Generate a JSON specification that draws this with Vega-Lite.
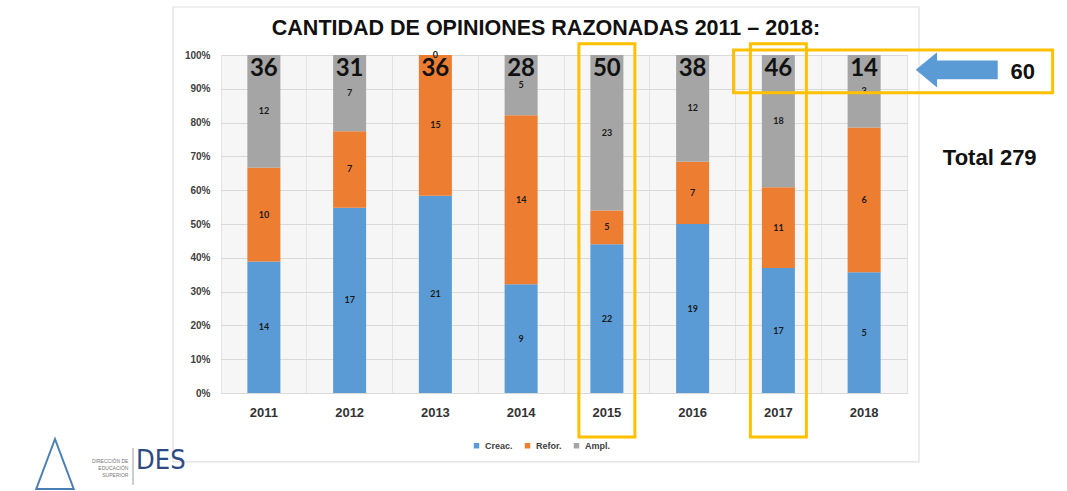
{
  "$schema": "https://vega.github.io/schema/vega-lite/v6.json",
  "width": 686,
  "height": 338,
  "autosize": "none",
  "padding": {"left": 221, "top": 55, "right": 160, "bottom": 98},
  "background": "white",
  "config": {
    "view": {"stroke": "#e2e2e2", "fill": "#f6f6f6"},
    "font": "Liberation Sans",
    "axisY": {"tickCount": 11, "labelOverlap": false, "format": ".0%", "ticks": false, "domain": false, "grid": true, "gridColor": "#d9d9d9", "title": null, "labelFont": "Liberation Sans", "labelFontWeight": "bold", "labelFontSize": 10, "labelColor": "#404040", "labelPadding": 11}
  },
  "datasets": {
    "main": [
      {"year": "2011", "cat": "Creac.", "ord": 1, "value": 14},
      {"year": "2011", "cat": "Refor.", "ord": 2, "value": 10},
      {"year": "2011", "cat": "Ampl.", "ord": 3, "value": 12},
      {"year": "2012", "cat": "Creac.", "ord": 1, "value": 17},
      {"year": "2012", "cat": "Refor.", "ord": 2, "value": 7},
      {"year": "2012", "cat": "Ampl.", "ord": 3, "value": 7},
      {"year": "2013", "cat": "Creac.", "ord": 1, "value": 21},
      {"year": "2013", "cat": "Refor.", "ord": 2, "value": 15},
      {"year": "2013", "cat": "Ampl.", "ord": 3, "value": 0},
      {"year": "2014", "cat": "Creac.", "ord": 1, "value": 9},
      {"year": "2014", "cat": "Refor.", "ord": 2, "value": 14},
      {"year": "2014", "cat": "Ampl.", "ord": 3, "value": 5},
      {"year": "2015", "cat": "Creac.", "ord": 1, "value": 22},
      {"year": "2015", "cat": "Refor.", "ord": 2, "value": 5},
      {"year": "2015", "cat": "Ampl.", "ord": 3, "value": 23},
      {"year": "2016", "cat": "Creac.", "ord": 1, "value": 19},
      {"year": "2016", "cat": "Refor.", "ord": 2, "value": 7},
      {"year": "2016", "cat": "Ampl.", "ord": 3, "value": 12},
      {"year": "2017", "cat": "Creac.", "ord": 1, "value": 17},
      {"year": "2017", "cat": "Refor.", "ord": 2, "value": 11},
      {"year": "2017", "cat": "Ampl.", "ord": 3, "value": 18},
      {"year": "2018", "cat": "Creac.", "ord": 1, "value": 5},
      {"year": "2018", "cat": "Refor.", "ord": 2, "value": 6},
      {"year": "2018", "cat": "Ampl.", "ord": 3, "value": 3}
    ],
    "boxes": [{"year": "2015"}, {"year": "2017"}],
    "one": [{"label": "x"}]
  },
  "resolve": {"scale": {"x": "independent"}},
  "layer": [
    {
      "data": {"name": "one"},
      "layer": [
        {
          "mark": {"type": "rect", "fill": null, "stroke": "#e0e0e0", "strokeWidth": 1.2},
          "encoding": {
            "x": {"datum": -0.56, "type": "quantitative", "scale": {"domain": [0, 8]}, "axis": null},
            "x2": {"datum": 8.14},
            "y": {
              "datum": 1.142, "type": "quantitative", "scale": {"domain": [0, 1], "nice": false},
              "axis": {"values": [0,0.1,0.2,0.3,0.4,0.5,0.6,0.7,0.8,0.9,1], "tickCount": 11}
            },
            "y2": {"datum": -0.204}
          }
        }
      ]
    },
    {
      "layer": [
        {
          "data": {"name": "main"},
          "mark": {"type": "bar", "width": {"band": 0.385}},
          "encoding": {
            "x": {
              "field": "year", "type": "nominal",
              "scale": {"domain": ["2011","2012","2013","2014","2015","2016","2017","2018"], "paddingInner": 0, "paddingOuter": 0},
              "axis": {
                "title": null, "labelAngle": 0, "ticks": false, "domain": false,
                "grid": true, "bandPosition": 0, "gridColor": "#e3e3e3",
                "labelFont": "Liberation Sans", "labelFontWeight": "bold", "labelFontSize": 13,
                "labelColor": "#333333", "labelPadding": 13
              }
            },
            "y": {
              "field": "value", "type": "quantitative", "stack": "normalize",
              "axis": {"values": [0,0.1,0.2,0.3,0.4,0.5,0.6,0.7,0.8,0.9,1], "tickCount": 11}
            },
            "color": {
              "field": "cat", "type": "nominal",
              "scale": {"domain": ["Creac.", "Refor.", "Ampl."], "range": ["#5B9BD5", "#ED7D31", "#A5A5A5"]},
              "legend": {
                "title": null, "orient": "none", "legendX": 251, "legendY": 386,
                "direction": "horizontal", "symbolType": "square", "symbolSize": 30,
                "labelFont": "Liberation Sans", "labelFontSize": 9, "labelFontWeight": "bold",
                "labelColor": "#404040", "columnPadding": 10
              }
            },
            "order": {"field": "ord", "type": "quantitative"}
          }
        },
        {
          "data": {"name": "main"},
          "transform": [
            {"stack": "value", "groupby": ["year"], "sort": [{"field": "ord"}], "offset": "normalize", "as": ["y0", "y1"]},
            {"fold": ["y0", "y1"], "as": ["k", "v"]},
            {"aggregate": [{"op": "mean", "field": "v", "as": "mid"}], "groupby": ["year", "cat", "value"]}
          ],
          "mark": {"type": "text", "font": "Lato", "fontWeight": "bold", "fontSize": 9, "color": "#1a1a1a"},
          "encoding": {
            "x": {"field": "year", "type": "nominal"},
            "y": {"field": "mid", "type": "quantitative"},
            "text": {"field": "value", "type": "quantitative"}
          }
        },
        {
          "data": {"name": "main"},
          "transform": [
            {"aggregate": [{"op": "sum", "field": "value", "as": "total"}], "groupby": ["year"]}
          ],
          "mark": {"type": "text", "font": "Lato", "fontWeight": "bold", "fontSize": 24, "color": "#111111"},
          "encoding": {
            "x": {"field": "year", "type": "nominal"},
            "y": {"datum": 0.958, "type": "quantitative"},
            "text": {"field": "total", "type": "quantitative"}
          }
        },
        {
          "data": {"name": "boxes"},
          "mark": {"type": "bar", "width": {"band": 0.653}, "fill": null, "stroke": "#FFC000", "strokeWidth": 3},
          "encoding": {
            "x": {"field": "year", "type": "nominal"},
            "y": {"datum": 1.033, "type": "quantitative"},
            "y2": {"datum": -0.13}
          }
        }
      ]
    },
    {
      "data": {"name": "one"},
      "layer": [
        {
          "mark": {"type": "text", "text": "CANTIDAD DE OPINIONES RAZONADAS 2011 – 2018:", "font": "Liberation Sans", "fontWeight": "bold", "fontSize": 21.5, "color": "#111111"},
          "encoding": {
            "x": {"datum": 3.79, "type": "quantitative", "scale": {"domain": [0, 8]}, "axis": null},
            "y": {"datum": 1.078, "type": "quantitative"}
          }
        },
        {
          "mark": {"type": "rect", "fill": null, "stroke": "#FFC000", "strokeWidth": 3},
          "encoding": {
            "x": {"datum": 5.977, "type": "quantitative", "scale": {"domain": [0, 8]}, "axis": null},
            "x2": {"datum": 9.698},
            "y": {"datum": 1.015, "type": "quantitative"},
            "y2": {"datum": 0.888}
          }
        },
        {
          "mark": {"type": "point", "filled": true, "opacity": 1, "color": "#5B9BD5", "size": 6724,
                   "shape": "M -1 0 L -0.48 -0.43 L -0.48 -0.23 L 1 -0.23 L 1 0.23 L -0.48 0.23 L -0.48 0.43 Z"},
          "encoding": {
            "x": {"datum": 8.58, "type": "quantitative", "scale": {"domain": [0, 8]}, "axis": null},
            "y": {"datum": 0.956, "type": "quantitative"}
          }
        },
        {
          "mark": {"type": "text", "text": "60", "font": "Liberation Sans", "fontWeight": "bold", "fontSize": 22, "color": "#111111"},
          "encoding": {
            "x": {"datum": 9.35, "type": "quantitative", "scale": {"domain": [0, 8]}, "axis": null},
            "y": {"datum": 0.95, "type": "quantitative"}
          }
        },
        {
          "mark": {"type": "text", "text": "Total 279", "font": "Liberation Sans", "fontWeight": "bold", "fontSize": 22, "color": "#111111"},
          "encoding": {
            "x": {"datum": 8.965, "type": "quantitative", "scale": {"domain": [0, 8]}, "axis": null},
            "y": {"datum": 0.695, "type": "quantitative"}
          }
        },
        {
          "mark": {"type": "text", "text": "DES", "font": "DejaVu Sans Condensed", "fontSize": 27, "color": "#2e4a84", "align": "left"},
          "encoding": {
            "x": {"datum": -0.99, "type": "quantitative", "scale": {"domain": [0, 8]}, "axis": null},
            "y": {"datum": -0.2, "type": "quantitative"}
          }
        },
        {
          "mark": {"type": "rule", "color": "#9a9a9a", "strokeWidth": 1},
          "encoding": {
            "x": {"datum": -1.026, "type": "quantitative", "scale": {"domain": [0, 8]}, "axis": null},
            "y": {"datum": -0.163, "type": "quantitative"},
            "y2": {"datum": -0.272}
          }
        },
        {
          "mark": {"type": "text", "text": ["DIRECCIÓN DE", "EDUCACIÓN", "SUPERIOR"], "font": "Liberation Sans", "fontSize": 5, "color": "#777777", "align": "right", "lineHeight": 7},
          "encoding": {
            "x": {"datum": -1.08, "type": "quantitative", "scale": {"domain": [0, 8]}, "axis": null},
            "y": {"datum": -0.2, "type": "quantitative"}
          }
        },
        {
          "mark": {"type": "point", "filled": false, "opacity": 1, "color": "#4a7fb5", "strokeWidth": 2, "size": 2500,
                   "shape": "M 0 -1 L -0.75 1 L 0.75 1 Z"},
          "encoding": {
            "x": {"datum": -1.936, "type": "quantitative", "scale": {"domain": [0, 8]}, "axis": null},
            "y": {"datum": -0.21, "type": "quantitative"}
          }
        }
      ]
    }
  ]
}
